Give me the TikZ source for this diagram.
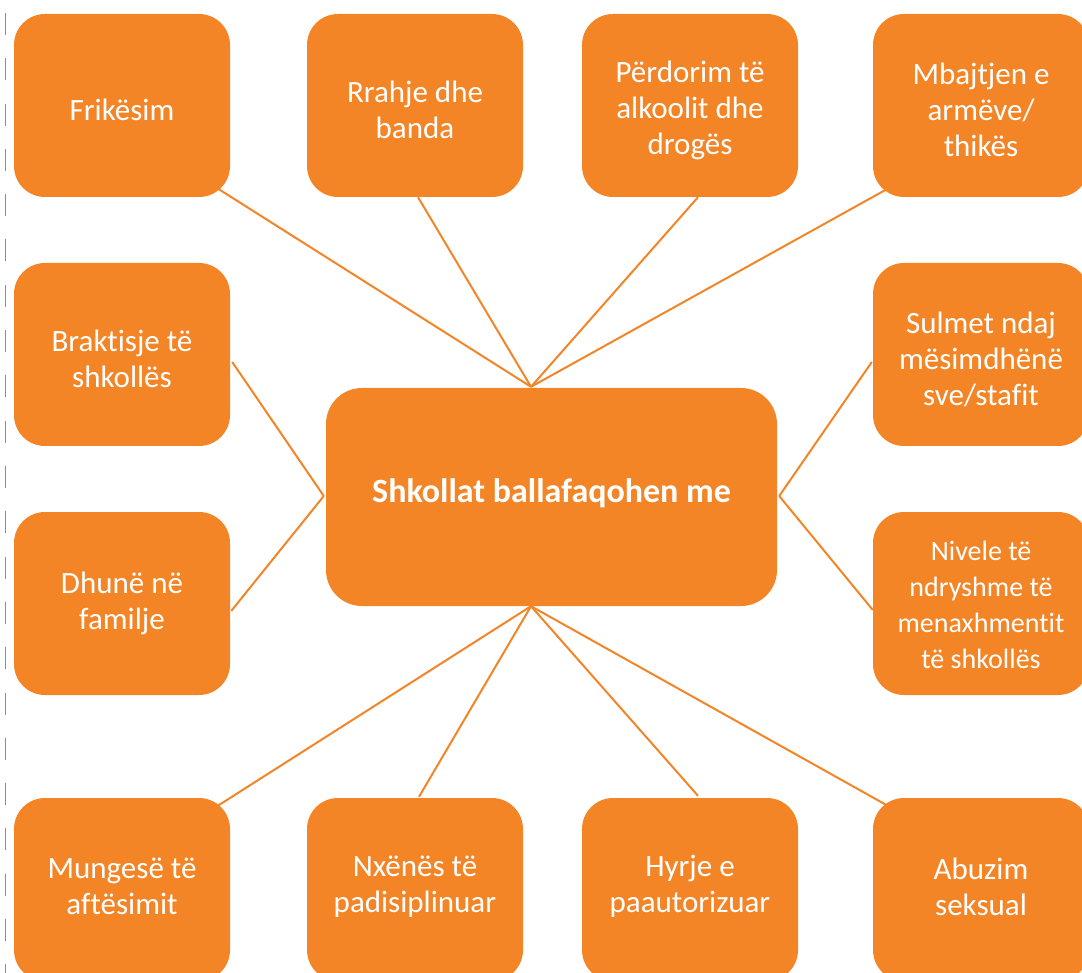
\documentclass[tikz,border=0pt]{standalone}
\usepackage{fontspec}
\setmainfont{Carlito}[Ligatures=NoCommon]
\usetikzlibrary{calc,backgrounds}
\definecolor{org}{HTML}{F38526}
\definecolor{dashc}{HTML}{7B8AC9}
\begin{document}
\begin{tikzpicture}[x=1pt,y=-1pt,
  box/.style={fill=org, rounded corners=31pt, minimum width=216pt, minimum height=183pt, inner sep=0pt},
  txt/.style={text=white, align=center, inner sep=0pt, font=\fontsize{31}{36}\selectfont},
  link/.style={draw=org, line width=2pt},
  guide/.style={draw=dashc, line width=1.3pt, dash pattern=on 22pt off 23.3pt}]
\useasboundingbox (0,0) rectangle (1082,973);
\clip (0,0) rectangle (1082,973);

\draw[guide] (5.5,13) -- (5.5,973);

\node[box, label={[txt,yshift=-4.5pt]center:Frikësim}] (fri) at (122,105.5) {};
\node[box, label={[txt,yshift=-4.5pt]center:{Rrahje dhe\\banda}}] (rra) at (415,105.5) {};
\node[box, label={[txt,yshift=-4.5pt]center:{Përdorim të\\alkoolit dhe\\drogës}}] (per) at (690,105.5) {};
\node[box, label={[txt,yshift=-4.5pt]center:{Mbajtjen e\\armëve/\\thikës}}] (mba) at (981,105.5) {};
\node[box, label={[txt,yshift=-4.5pt]center:{Braktisje të\\shkollës}}] (bra) at (122,354.5) {};
\node[box, label={[txt,yshift=-4.5pt]center:{Sulmet ndaj\\mësimdhënë\\sve/stafit}}] (sul) at (981,354.5) {};
\node[box, label={[txt]center:{Dhunë në\\familje}}] (dhu) at (122,603.5) {};
\node[box, label={[txt,font=\fontsize{28}{36}\selectfont,yshift=-1pt]center:{Nivele të\\ndryshme të\\menaxhmentit\\të shkollës}}] (niv) at (981,603.5) {};
\node[box, label={[txt,yshift=3pt]center:{Mungesë të\\aftësimit}}] (mun) at (122,889.5) {};
\node[box, label={[txt,yshift=3pt]center:{Nxënës të\\padisiplinuar}}] (nxe) at (415,889.5) {};
\node[box, label={[txt,yshift=3pt]center:{Hyrje e\\paautorizuar}}] (hyr) at (690,889.5) {};
\node[box, label={[txt,yshift=3pt]center:{Abuzim\\seksual}}] (abu) at (981,889.5) {};
\node[box, minimum width=451pt, minimum height=218pt, rounded corners=36pt,
  label={[txt,font=\bfseries\fontsize{34}{40}\selectfont,yshift=4pt]center:Shkollat ballafaqohen me}] (cen) at (551.5,497) {};

\coordinate (ctop) at ($(cen.north)+(-20.5,-1)$);
\coordinate (cbot) at ($(cen.south)+(-20.5,0)$);
\coordinate (cleft) at ($(cen.west)+(-2,-1)$);
\coordinate (cright) at ($(cen.east)+(2,-1)$);

\begin{scope}[on background layer]
\draw[link] ($(fri.south east)+(-13,-9)$) -- (ctop);
\draw[link] ($(rra.south)+(3,0)$) -- (ctop);
\draw[link] ($(per.south)+(8,0)$) -- (ctop);
\draw[link] ($(mba.south west)+(14,-8)$) -- (ctop);
\draw[link] ($(bra.east)+(2,7.5)$) -- (cleft);
\draw[link] ($(dhu.east)+(1,7.5)$) -- (cleft);
\draw[link] ($(sul.west)+(-1,7.5)$) -- (cright);
\draw[link] ($(niv.west)+(0,6.5)$) -- (cright);
\draw[link] ($(mun.north east)+(-14,9)$) -- (cbot);
\draw[link] ($(nxe.north)+(4,-1)$) -- (cbot);
\draw[link] ($(hyr.north)+(8,-2)$) -- (cbot);
\draw[link] ($(abu.north west)+(15,8)$) -- (cbot);
\end{scope}
\end{tikzpicture}
\end{document}
